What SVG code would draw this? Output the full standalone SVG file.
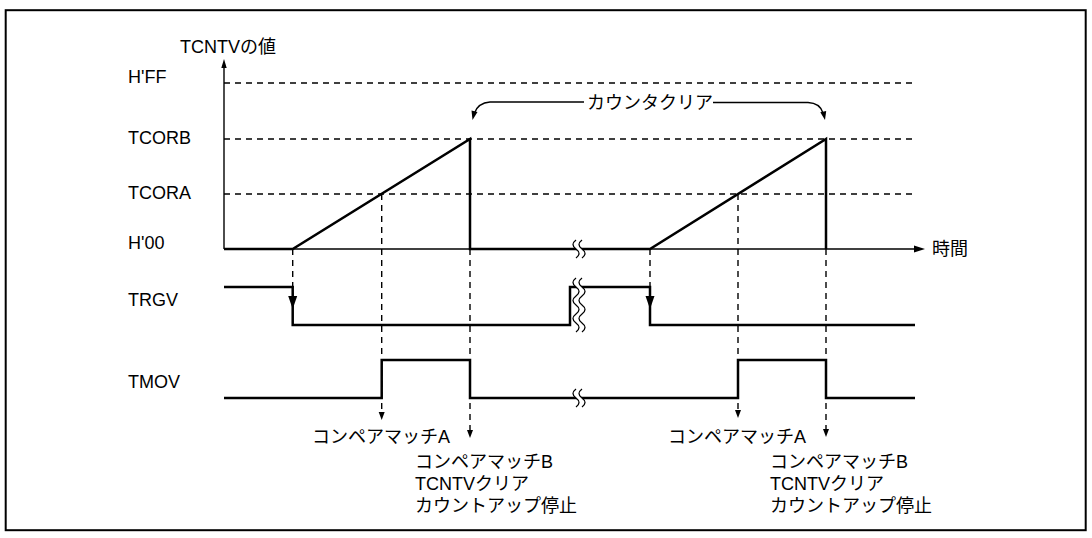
<svg xmlns="http://www.w3.org/2000/svg" width="1092" height="538" viewBox="0 0 1092 538">
<style>
text{font-family:"Liberation Sans","Noto Sans CJK JP",sans-serif;font-size:18px;fill:#000}
.sig{fill:none;stroke:#000;stroke-width:2.5;stroke-linejoin:miter}
.thin{fill:none;stroke:#000;stroke-width:1.4}
.dash{fill:none;stroke:#000;stroke-width:1.4;stroke-dasharray:6 5}
.ah{fill:#000;stroke:none}
.brkw{fill:#fff;stroke:none}
.brkl{fill:none;stroke:#000;stroke-width:1.3}
</style>
<defs>
<g id="brk1">
<path class="brkw" d="M0,-9 C-4,-6 -4,-3 0,0 C4,3 4,6 0,9 L6,9 C10,6 10,3 6,0 C2,-3 2,-6 6,-9 Z"/>
<path class="brkl" d="M0,-9 C-4,-6 -4,-3 0,0 C4,3 4,6 0,9 M6,-9 C2,-6 2,-3 6,0 C10,3 10,6 6,9"/>
</g>
<g id="brk3">
<path class="brkw" d="M0,-27 C-4,-24 -4,-21 0,-18 C4,-15 4,-12 0,-9 C-4,-6 -4,-3 0,0 C4,3 4,6 0,9 C-4,12 -4,15 0,18 C4,21 4,24 0,27 L6,27 C10,24 10,21 6,18 C2,15 2,12 6,9 C10,6 10,3 6,0 C2,-3 2,-6 6,-9 C10,-12 10,-15 6,-18 C2,-21 2,-24 6,-27 Z"/>
<path class="brkl" d="M0,-27 C-4,-24 -4,-21 0,-18 C4,-15 4,-12 0,-9 C-4,-6 -4,-3 0,0 C4,3 4,6 0,9 C-4,12 -4,15 0,18 C4,21 4,24 0,27 M6,-27 C2,-24 2,-21 6,-18 C10,-15 10,-12 6,-9 C2,-6 2,-3 6,0 C10,3 10,6 6,9 C2,12 2,15 6,18 C10,21 10,24 6,27"/>
</g>
</defs>
<rect x="5.7" y="10.2" width="1080" height="520" fill="#fff" stroke="#000" stroke-width="2"/>

<g id="axis-labels">
<text x="180" y="53">TCNTVの値</text>
<text x="128" y="83">H'FF</text>
<text x="128" y="144">TCORB</text>
<text x="128" y="199">TCORA</text>
<text x="128" y="249">H'00</text>
<text x="128" y="306">TRGV</text>
<text x="128" y="388">TMOV</text>
<text x="932" y="255">時間</text>
</g>

<g id="connectors">
<!-- reference dashed levels -->
<path class="dash" d="M224,83 H917 M224,139 H917 M224,194 H917"/>
<!-- y axis -->
<path class="thin" d="M224,249 V67"/>
<polygon class="ah" points="224,59 221.3,68 226.7,68"/>
<!-- time axis -->
<path class="thin" d="M224,249 H916"/>
<polygon class="ah" points="925,249 914,245.5 914,252.5"/>
<!-- counter value -->
<path class="sig" d="M224,249 H292.7 L470,139 V249 H650 L826,139 V249"/>
<!-- TRGV -->
<path class="sig" d="M224,287 H292.7 V325 H570 V287 H650 V325 H915"/>
<!-- TMOV -->
<path class="sig" d="M224,398 H381.7 V360 H470 V398 H738 V360 H826 V398 H915"/>
<!-- dashed verticals -->
<path class="dash" d="M292.7,249 V297 M650,249 V297 M381.7,194 V413 M470,249 V431 M738,194 V411 M826,249 V430"/>
<polygon class="ah" points="292.7,309 288.2,296 297.2,296"/>
<polygon class="ah" points="650,309 645.5,296 654.5,296"/>
<polygon class="ah" points="381.7,420 378.7,412 384.7,412"/>
<polygon class="ah" points="470,438 467,430 473,430"/>
<polygon class="ah" points="738,418 735,410 741,410"/>
<polygon class="ah" points="826,437 823,429 829,429"/>
<!-- counter clear arrows -->
<path class="thin" d="M584,102 H490 Q478,103 474.5,113"/>
<polygon class="ah" points="472.5,120 471.5,110.5 477.5,112"/>
<path class="thin" d="M713,102.5 H808 Q820,103 823,113"/>
<polygon class="ah" points="825,120 820.3,112.3 826.2,111"/>
</g>

<g id="breaks">
<use href="#brk1" x="576" y="249"/>
<use href="#brk3" x="576" y="305"/>
<use href="#brk1" x="576" y="398"/>
</g>

<g id="label-clear">
<text x="587" y="109">カウンタクリア</text>
</g>
<g id="label-matchA-1">
<text x="312" y="443">コンペアマッチA</text>
</g>
<g id="label-matchB-1">
<text x="415" y="468">コンペアマッチB</text>
<text x="415" y="490">TCNTVクリア</text>
<text x="415" y="512">カウントアップ停止</text>
</g>
<g id="label-matchA-2">
<text x="668" y="443">コンペアマッチA</text>
</g>
<g id="label-matchB-2">
<text x="770" y="468">コンペアマッチB</text>
<text x="770" y="490">TCNTVクリア</text>
<text x="770" y="512">カウントアップ停止</text>
</g>
</svg>
